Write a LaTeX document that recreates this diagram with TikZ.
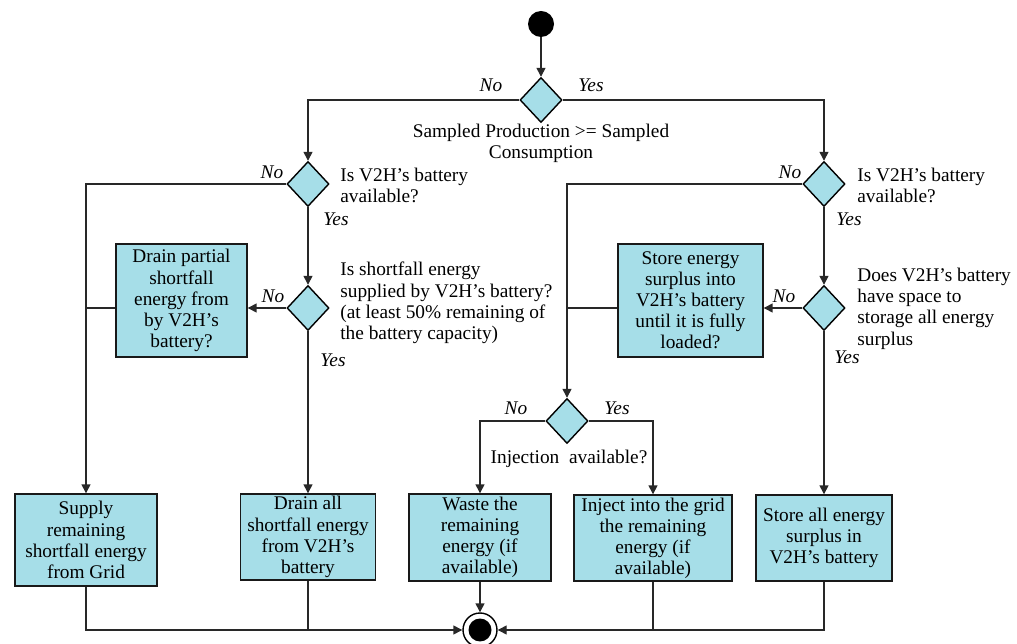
\documentclass[tikz,border=0pt]{standalone}
\usepackage{fontspec}
\setmainfont{Liberation Serif}
\usetikzlibrary{shapes.geometric,arrows.meta}
\definecolor{boxfill}{RGB}{166,222,232}
\definecolor{lncol}{RGB}{40,40,40}
\begin{document}
\begin{tikzpicture}[x=0.02cm,y=-0.02cm,
  every node/.style={font=\fontsize{11}{12}\selectfont},
  box/.style={draw=black!90, fill=boxfill, line width=0.8pt, align=center, inner sep=0pt},
  dec/.style={diamond, draw=black, fill=boxfill, line width=0.8pt, minimum width=0.84cm, minimum height=0.9cm, inner sep=0pt},
  arr/.style={-{Triangle[length=0.18cm,width=0.18cm]}},
  conn/.style={draw=lncol, line width=0.8pt},
  lab/.style={font=\fontsize{11}{12}\selectfont\itshape, inner sep=0pt},
  txt/.style={align=left, inner sep=0pt, anchor=north west}
]
\useasboundingbox (0,0) rectangle (1017,644);

% start / end
\node[circle, fill=black, minimum size=0.52cm, inner sep=0pt] (start) at (541,24) {};
\node[circle, draw=black, fill=white, line width=0.8pt, minimum size=0.68cm, inner sep=0pt] (end) at (480,630) {};
\node[circle, fill=black, minimum size=0.46cm, inner sep=0pt] (endin) at (end) {};

% decisions
\node[dec] (d1) at (541,100) {};
\node[dec] (d2) at (308,184) {};
\node[dec] (d3) at (308,308) {};
\node[dec] (d4) at (824,184) {};
\node[dec] (d5) at (824,308) {};
\node[dec] (d6) at (567,421) {};

% boxes
\node[box, minimum width=2.62cm, minimum height=2.26cm] (drainpart) at (181.5,300.5)
  {Drain partial\\shortfall\\energy from\\by V2H’s\\battery?};
\node[box, minimum width=2.90cm, minimum height=2.26cm] (storeen) at (690.5,300.5)
  {Store energy\\surplus into\\V2H’s battery\\until it is fully\\loaded?};
\node[box, minimum width=2.84cm, minimum height=1.84cm] (supply) at (86,540)
  {Supply\\remaining\\shortfall energy\\from Grid};
\node[box, minimum width=2.70cm, minimum height=1.72cm] (drainall) at (308,537)
  {Drain all\\shortfall energy\\from V2H’s\\battery};
\node[box, minimum width=2.84cm, minimum height=1.74cm] (waste) at (480,537.5)
  {Waste the\\remaining\\energy (if\\available)};
\node[box, minimum width=3.16cm, minimum height=1.72cm] (inject) at (653,538)
  {Inject into the grid\\the remaining\\energy (if\\available)};
\node[box, minimum width=2.72cm, minimum height=1.72cm] (storeall) at (824,538)
  {Store all energy\\surplus in\\V2H’s battery};

% texts
\node[align=center, inner sep=0pt] (t1) at (541,143) {Sampled Production >= Sampled\\Consumption};
\node[txt] (t2) at (340,168) {Is V2H’s battery\\available?};
\node[txt] (t3) at (340,262) {Is shortfall energy\\supplied by V2H’s battery?\\(at least 50\% remaining of\\the battery capacity)};
\node[txt] (t4) at (857,168) {Is V2H’s battery\\available?};
\node[txt] (t5) at (857,268) {Does V2H’s battery\\have space to\\storage all energy\\surplus};
\node[inner sep=0pt] (t6) at (569,459) {Injection\ \ available?};

% labels
\node[lab] (n1) at (491,85) {No};
\node[lab] (y1) at (591,85) {Yes};
\node[lab] (n2) at (272,172) {No};
\node[lab] (y2) at (336,219) {Yes};
\node[lab] (n3) at (273,296) {No};
\node[lab] (y3) at (333,360) {Yes};
\node[lab] (n4) at (790,172) {No};
\node[lab] (y4) at (849,219) {Yes};
\node[lab] (n5) at (784,296) {No};
\node[lab] (y5) at (847,357) {Yes};
\node[lab] (n6) at (516,408) {No};
\node[lab] (y6) at (617,408) {Yes};

% connectors
\draw[conn, arr] (start) -- (d1);
\draw[conn, arr] (d1.west) -| (d2.north);
\draw[conn, arr] (d1.east) -| (d4.north);
\draw[conn, arr] (d2.west) -| (supply.north);
\draw[conn, arr] (d2.south) -- (d3.north);
\draw[conn, arr] (d3.west) -- (d3.west -| drainpart.east);
\draw[conn] (d3.west -| drainpart.west) -- (d3.west -| supply.north);
\draw[conn, arr] (d3.south) -- (d3.south |- drainall.north);
\draw[conn, arr] (d4.west) -| (d6.north);
\draw[conn, arr] (d4.south) -- (d5.north);
\draw[conn, arr] (d5.west) -- (d5.west -| storeen.east);
\draw[conn] (d5.west -| storeen.west) -- (d5.west -| d6.north);
\draw[conn, arr] (d5.south) -- (d5.south |- storeall.north);
\draw[conn, arr] (d6.west) -| (waste.north);
\draw[conn, arr] (d6.east) -| (inject.north);
\draw[conn, arr] (supply.south) |- (end.west);
\draw[conn] (drainall.south) -- (drainall.south |- end.west);
\draw[conn, arr] (storeall.south) |- (end.east);
\draw[conn] (inject.south) -- (inject.south |- end.east);
\draw[conn, arr] (waste.south) -- (end.north);
\end{tikzpicture}
\end{document}
